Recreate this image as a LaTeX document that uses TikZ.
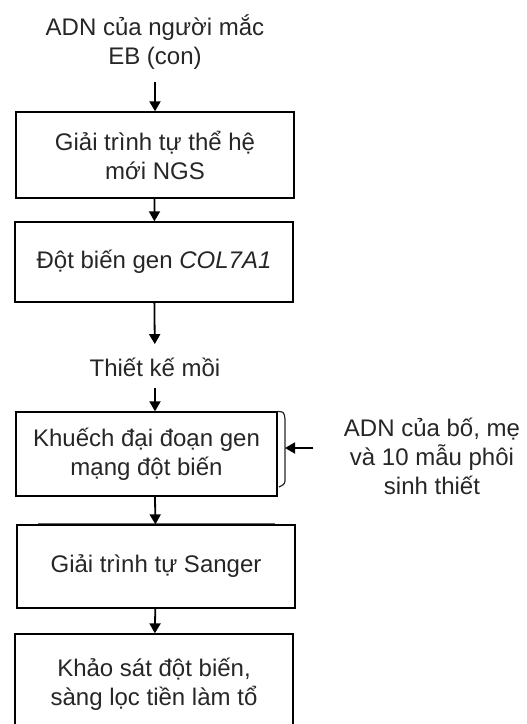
\documentclass[tikz,border=0pt]{standalone}
\usepackage{fontspec}
\setmainfont{Liberation Sans}
\usetikzlibrary{arrows.meta}

\begin{document}
\begin{tikzpicture}[x=1pt, y=-1pt,
		every node/.style={align=center, text=black!85, font=\fontsize{24}{29}\selectfont},
		box/.style={draw, line width=1.3pt, minimum width=278pt, inner sep=0pt},
		arr/.style={line width=1.8pt, -{Triangle[width=11pt,length=10pt]}}]
		\clip (0,0) rectangle (527,724);
		\path (155,42) node (src) {ADN của người mắc\\EB (con)}
		(155,155) node[box, minimum height=86pt] (ngs) {Giải trình tự thể hệ\\mới NGS}
		(154,262) node[box, minimum height=80pt] (mut) {Đột biến gen \textit{COL7A1}}
		(155,367) node (primer) {Thiết kế mồi}
		(146.5,454) node[box, minimum width=261pt, minimum height=84pt] (amp) {Khuếch đại đoạn gen\\mạng đột biến}
		(156,566.5) node[box, minimum height=83pt] (sanger) {Giải trình tự Sanger}
		(154,684) node[box, minimum height=100pt] (screen) {Khảo sát đột biến,\\sàng lọc tiền làm tổ}
		(432,456) node (parent) {ADN của bố, mẹ\\và 10 mẫu phôi\\sinh thiết};

		% bracket on the right of the amplification box
		\coordinate (brk) at (285,448);
		\draw[line width=1.2pt, black!85] (amp.north east) .. controls (284,412) .. (285,419)
		-- (285,478) .. controls (285,484) .. (279,487);
		\draw[line width=0.8pt, black!60] (38,523.5) -- (275,523.5);

		\draw[arr, shorten <=9pt] (src) -- (ngs);
		\draw[arr] (ngs) -- (mut);
		\draw[arr, shorten >=10pt] (mut) -- (primer);
		\draw[arr, shorten <=8pt] (primer) -- (primer |- amp.north);
		\draw[arr] (amp.south -| primer) -- (sanger);
		\draw[arr] (sanger) -- (screen);
		\draw[arr, shorten <=27pt] (parent.west |- brk) -- (brk);
	\end{tikzpicture}
\end{document}
